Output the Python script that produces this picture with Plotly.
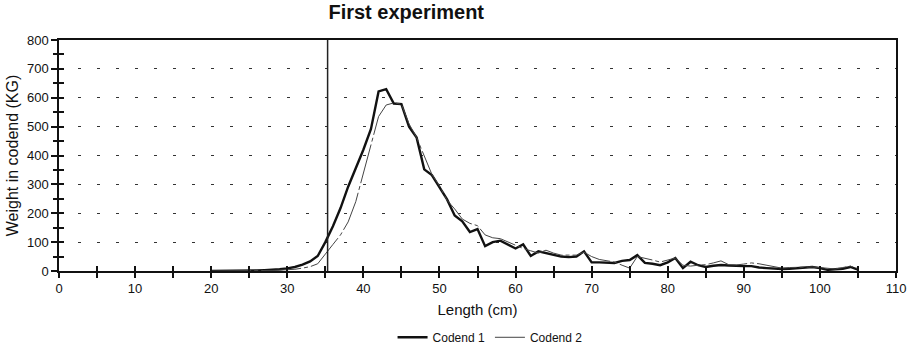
import plotly.graph_objects as go

lengths = list(range(20, 106))

codend1 = [0, 0, 0, 0, 1, 1, 2, 3, 4, 6,
           9, 14, 22, 33, 52, 100, 155, 218, 292, 355,
           420, 492, 622, 630, 580, 578, 500, 462, 352, 332,
           290, 248, 192, 172, 135, 145, 86, 100, 105, 90,
           78, 92, 52, 68, 62, 58, 50, 48, 50, 68,
           30, 30, 30, 28, 35, 38, 55, 28, 25, 20,
           30, 45, 10, 32, 20, 14, 18, 21, 19, 17,
           17, 17, 12, 10, 8, 7, 8, 10, 12, 14,
           10, 4, 6, 8, 14, 5]

codend2 = [0, 0, 0, 0, 0, 1, 1, 1, 2, 3,
           4, 6, 10, 15, 25, 60, 92, 125, 170, 240,
           340, 445, 535, 575, 582, 578, 510, 462, 400, 335,
           295, 245, 215, 180, 165, 157, 125, 115, 112, 100,
           88, 78, 70, 62, 72, 62, 55, 55, 55, 65,
           50, 40, 35, 31, 20, 10, 50, 45, 38, 31,
           38, 45, 20, 17, 20, 22, 28, 35, 22, 21,
           24, 28, 25, 20, 14, 10, 12, 13, 14, 14,
           12, 9, 7, 12, 17, 8]

REF_LENGTH = 35.3
x_ticks = [0, 10, 20, 30, 40, 50, 60, 70, 80, 90, 100, 110]
y_ticks = [0, 100, 200, 300, 400, 500, 600, 700, 800]

FONT = "Arial, Liberation Sans, sans-serif"
INK = "#111111"

fig = go.Figure()
fig.add_trace(go.Scatter(x=lengths, y=codend1, mode="lines", name="Codend 1",
                         line=dict(color=INK, width=2.4)))
fig.add_trace(go.Scatter(x=lengths, y=codend2, mode="lines", name="Codend 2",
                         line=dict(color="#444444", width=1, dash="40px,3px,4px,3px")))
# invisible trace to carry overlay axes (inside ticks)
fig.add_trace(go.Scatter(x=[0, 110], y=[0, 800], xaxis="x2", yaxis="y2", mode="lines",
                         line=dict(width=0), showlegend=False, hoverinfo="skip"))

fig.add_vline(x=REF_LENGTH, line=dict(color="#222222", width=1.5))

fig.update_layout(
    width=917, height=347,
    margin=dict(l=59, r=21, t=40, b=76),
    paper_bgcolor="white", plot_bgcolor="white",
    font=dict(family=FONT, size=13, color=INK),
    title=dict(text="<b>First experiment</b>", x=0.443, xanchor="center", xref="container",
               y=0.985, yanchor="top", font=dict(size=20, family=FONT, color=INK)),
    showlegend=True,
    legend=dict(orientation="h", x=0.515, xanchor="center", yref="container", y=0.028,
                yanchor="middle", font=dict(size=12), itemwidth=30),
    xaxis=dict(range=[0, 110], tickvals=x_ticks, showline=True, linecolor=INK,
               linewidth=1.5, mirror=True, ticks="outside", ticklen=5, tickwidth=1.5,
               tickcolor=INK, showgrid=False, zeroline=False, automargin=False,
               minor=dict(dtick=5, tick0=0, ticks="outside", ticklen=5, tickwidth=1.5,
                          tickcolor=INK, showgrid=False),
               title=dict(text="Length (cm)", font=dict(size=15), standoff=9),
               tickfont=dict(size=13)),
    yaxis=dict(range=[0, 800], tickvals=y_ticks, showline=True, linecolor=INK,
               linewidth=1.5, mirror=True, ticks="outside", ticklen=6, tickwidth=1.5,
               tickcolor=INK, showgrid=True, gridcolor="#333333", gridwidth=1,
               griddash="3px,16px", zeroline=False, automargin=False,
               minor=dict(dtick=50, tick0=0, ticks="outside", ticklen=4, tickwidth=1.5,
                          tickcolor=INK, showgrid=False),
               title=dict(text="Weight in codend (KG)", font=dict(size=16), standoff=4),
               tickfont=dict(size=13)),
    xaxis2=dict(range=[0, 110], overlaying="x", anchor="y2", side="bottom",
                showticklabels=False, ticks="inside", dtick=5, tick0=0, ticklen=5,
                tickwidth=1.5, tickcolor=INK, showgrid=False, zeroline=False,
                showline=False),
    yaxis2=dict(range=[0, 800], overlaying="y", anchor="x2", side="left",
                showticklabels=False, ticks="inside", dtick=50, tick0=0, ticklen=5,
                tickwidth=1.5, tickcolor=INK, showgrid=False, zeroline=False,
                showline=False),
)

fig.write_html("out.html")
